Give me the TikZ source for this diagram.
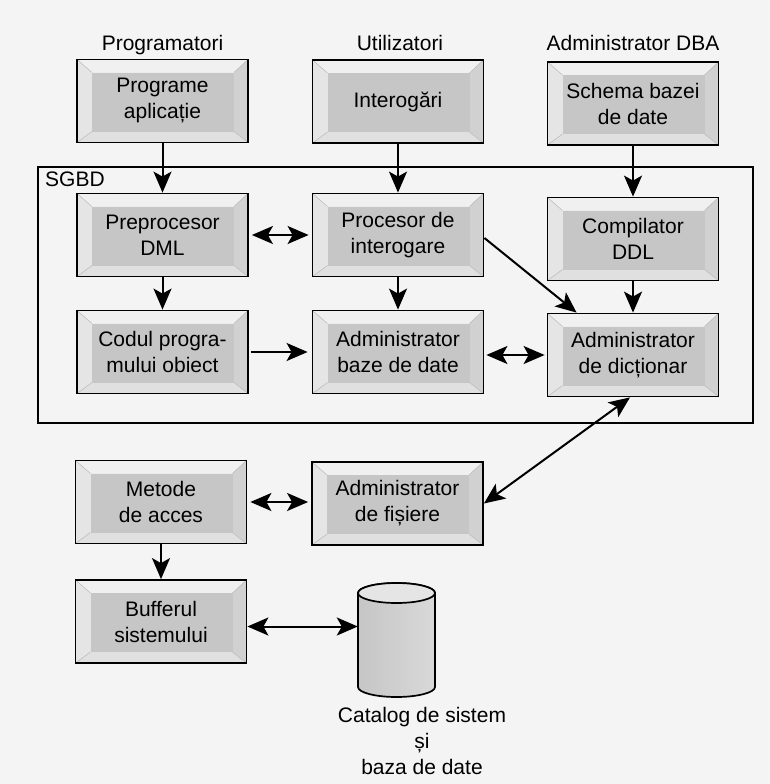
\documentclass[tikz,border=0pt]{standalone}
\usepackage{fontspec}
\setmainfont{Liberation Sans}
\usetikzlibrary{arrows.meta,calc}
\begin{document}
\begin{tikzpicture}[x=1pt,y=-1pt,
  >={Stealth[length=21pt,width=18pt,inset=5pt]},
  conn/.style={line width=2pt,->},
  dconn/.style={line width=2pt,<->},
  lbl/.style={font=\fontsize{21}{26}\selectfont, inner sep=0pt},
  bevbox/.style={draw=black, line width=1.8pt, minimum width=171pt, minimum height=83pt,
    align=center, inner sep=0pt, font=\fontsize{21}{26}\selectfont, fill=gray!20,
    path picture={
      \path (path picture bounding box.north west) coordinate (bA)
            (path picture bounding box.north east) coordinate (bB)
            (path picture bounding box.south east) coordinate (bC)
            (path picture bounding box.south west) coordinate (bD);
      \path ($(bA)+(15pt,-13pt)$) coordinate (ba)
            ($(bB)+(-14pt,-13pt)$) coordinate (bb)
            ($(bC)+(-14pt,11pt)$) coordinate (bc)
            ($(bD)+(15pt,11pt)$) coordinate (bd);
      \fill[gray!12] (bA)--(bB)--(bb)--(ba)--cycle;
      \fill[gray!20] (bA)--(ba)--(bd)--(bD)--cycle;
      \fill[gray!36] (bB)--(bC)--(bc)--(bb)--cycle;
      \fill[gray!24] (bD)--(bd)--(bc)--(bC)--cycle;
      \fill[gray!45] (ba) rectangle (bc);
      \draw[gray!55, line width=0.5pt] (bA)--(ba) (bB)--(bb) (bC)--(bc) (bD)--(bd);
    }}
]
\useasboundingbox (0,0) rectangle (770,784);
\fill[gray!9] (0,0) rectangle (770,784);

% SGBD frame
\draw[line width=1.7pt] (38,167) rectangle (753,423);
\node[lbl, anchor=base west] (sgbd) at (45,186) {SGBD};

% top labels
\node[lbl, anchor=base] (lprog) at (162.5,51) {Programatori};
\node[lbl, anchor=base] (lutil) at (400,51) {Utilizatori};
\node[lbl, anchor=base] (ldba) at (633,51) {Administrator DBA};

% boxes
\node[bevbox] (prog) at (162.5,101) {Programe\\aplicație};
\node[bevbox] (inter) at (398,101.5) {Interogări};
\node[bevbox] (schema) at (633,103.5) {Schema bazei\\de date};

\node[bevbox] (prep) at (162.5,235) {Preprocesor\\DML};
\node[bevbox] (procint) at (398,235) {Procesor de\\interogare};
\node[bevbox] (compil) at (633,239) {Compilator\\DDL};

\node[bevbox] (codul) at (162.5,352) {Codul progra-\\mului obiect};
\node[bevbox] (admbd) at (398,352) {Administrator\\baze de date};
\node[bevbox] (admdict) at (633,355) {Administrator\\de dicționar};

\node[bevbox] (metode) at (161,502) {Metode\\de acces};
\node[bevbox] (admfis) at (397.5,503.5) {Administrator\\de fișiere};
\node[bevbox] (buffer) at (161,621.5) {Bufferul\\sistemului};

% cylinder
\path[left color=gray!45, right color=gray!30, draw=black, line width=1.7pt]
  (358,593) -- (358,687) arc[start angle=180, end angle=360, x radius=38.5pt, y radius=10pt]
  -- (435,593) arc[start angle=0, end angle=180, x radius=38.5pt, y radius=10pt] -- cycle;
\draw[fill=gray!20, line width=1.7pt] (396.5,593) ellipse[x radius=38.5pt, y radius=10pt];
\node[minimum width=77pt, minimum height=114pt, inner sep=0pt] (cyl) at (396.5,640) {};
\node[lbl, align=center, anchor=north] (cat) at (422,707) {Catalog de sistem\\și\\baza de date};

% connectors
\draw[conn] (prog.south) -- (prep.north);
\draw[conn] (inter.south) -- (procint.north);
\draw[conn] (schema.south) -- (compil.north);
\draw[dconn, shorten <=3pt, shorten >=3pt] (prep.east) -- (procint.west);
\draw[conn] (prep.south) -- (codul.north);
\draw[conn] (procint.south) -- (admbd.north);
\draw[conn] ($(procint.east)+(0,3)$) -- ($(admdict.north west)+(30,0)$);
\draw[conn] (compil.south) -- (admdict.north);
\draw[conn, shorten <=2pt, shorten >=4pt] (codul.east) -- (admbd.west);
\draw[dconn, shorten <=2pt, shorten >=2pt] ($(admbd.east)+(0,3)$) -- ($(admbd.east -| admdict.west)+(0,3)$);
\draw[dconn] ($(admdict.south)+(-3,0)$) -- (admfis.east);
\draw[dconn, shorten <=3pt, shorten >=3pt] (metode.east) -- (metode.east -| admfis.west);
\draw[conn] (metode.south) -- (buffer.north);
\draw[dconn] ($(buffer.east)+(0,5)$) -- ($(buffer.east -| cyl.west)+(0,5)$);
\end{tikzpicture}
\end{document}
